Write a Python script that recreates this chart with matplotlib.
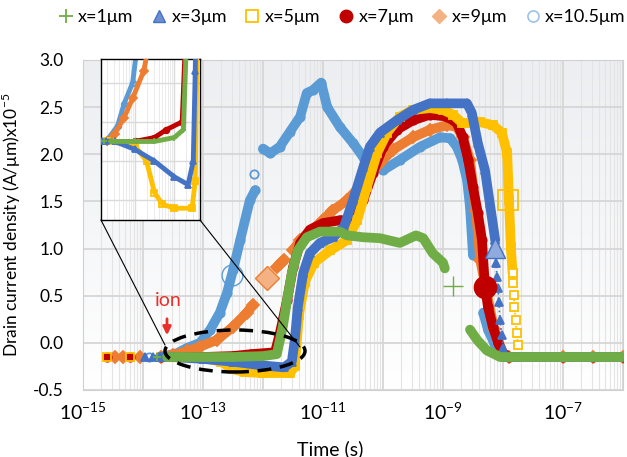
import numpy as np
import matplotlib
matplotlib.use('Agg')
import matplotlib.pyplot as plt
from matplotlib.lines import Line2D
from matplotlib.patches import Ellipse, ConnectionPatch
from matplotlib.colors import LinearSegmentedColormap
import matplotlib.ticker as mticker

plt.rcParams['font.family'] = ['Lato', 'DejaVu Sans']
plt.rcParams['mathtext.fontset'] = 'custom'
plt.rcParams['mathtext.rm'] = 'Lato'
plt.rcParams['axes.unicode_minus'] = False

nan = np.nan

labels = ['x=1μm', 'x=3μm', 'x=5μm', 'x=7μm', 'x=9μm', 'x=10.5μm']

# log10(time [s]) and drain current density [x1e-5 A/μm]
x1_logt = [-13.77, nan, -13.6, -13.0, -12.5, -12.0, -11.77, -11.67, -11.60, -11.52, -11.42, -11.27, -11.05,
           -10.72, -10.60, -10.33, -10.05, -9.72, -9.45, -9.33, -9.17, -9.00, -8.97, nan,
           -8.55, -8.43, -8.27, -8.05, -7.5, -7.0, -6.5, -6.0]
x1_i = [-0.15, nan, -0.15, -0.15, -0.15, -0.14, -0.12, 0.17, 0.45, 0.74, 0.98, 1.12, 1.18,
        1.18, 1.14, 1.12, 1.11, 1.06, 1.14, 1.11, 0.95, 0.85, 0.79, nan,
        0.14, 0.03, -0.08, -0.15, -0.15, -0.15, -0.15, -0.15]

x3_logt = [-13.97, nan, -13.83, nan, -13.72, -13.5, -13.0, -12.5, -12.0, -11.65, -11.52, -11.47, -11.42,
           -11.33, -11.22, -11.05, -10.83, -10.65, -10.50, -10.33, -10.22, -10.05, -9.77, -9.50, -9.22,
           -8.93, -8.60, -8.52, -8.42, -8.30, -8.22, -8.13, nan, -7.97, -7.5, -7.0, -6.5, -6.0]
x3_i = [-0.15, nan, -0.15, nan, -0.15, -0.15, -0.17, -0.20, -0.24, -0.26, -0.20, 0.03, 0.38,
        0.74, 0.95, 1.06, 1.12, 1.23, 1.51, 1.86, 2.08, 2.23, 2.36, 2.47, 2.54,
        2.54, 2.54, 2.44, 2.12, 1.83, 1.48, 1.09, nan, -0.15, -0.15, -0.15, -0.15, -0.15]
x3_tail_logt = [-8.13, -8.12, -8.10, -8.08, -8.07, -8.05, -8.02, -8.00, -7.97]
x3_tail_i = [1.09, 0.85, 0.70, 0.58, 0.43, 0.24, 0.08, -0.05, -0.15]

x5_logt = [-14.6, nan, -14.22, nan, -13.7, -13.0, -12.7, -12.5, -12.3, -12.0, -11.55, -11.47, -11.40,
           -11.30, -11.15, -10.88, -10.60, -10.43, -10.27, -10.10, -9.93, -9.72, -9.50, -9.22, -9.00,
           -8.83, -8.68, -8.60, -8.38, -8.17, -8.02, -7.93, -7.90, -7.87, -7.84, nan, -7.70, -7.0, -6.5, -6.0]
x5_i = [-0.15, nan, -0.15, nan, -0.15, -0.16, -0.20, -0.28, -0.31, -0.32, -0.32, -0.25, 0.30,
        0.65, 0.85, 0.98, 1.09, 1.30, 1.65, 2.01, 2.23, 2.40, 2.47, 2.49, 2.47,
        2.42, 2.33, 2.33, 2.34, 2.31, 2.23, 2.01, 1.51, 1.02, 0.74, nan, -0.15, -0.15, -0.15, -0.15]
x5_tail_logt = [-7.84, -7.83, -7.82, -7.81, -7.79, -7.77, -7.75, -7.70]
x5_tail_i = [0.74, 0.63, 0.51, 0.38, 0.24, 0.10, -0.02, -0.15]

x7_logt = [-14.6, nan, -14.22, nan, -13.7, -13.0, -12.5, -12.2, -11.8, -11.72, -11.60, -11.50, -11.38,
           -11.22, -11.00, -10.72, -10.60, -10.33, -10.17, -10.00, -9.77, -9.50, -9.22, -8.93, -8.77,
           -8.67, -8.58, -8.50, -8.42, -8.35, -8.30, -8.25, -8.17, -8.08, -8.00, -7.9, -7.0, -6.5, -6.0]
x7_i = [-0.15, nan, -0.15, nan, -0.15, -0.15, -0.14, -0.12, -0.10, 0.10, 0.45, 0.80, 1.06,
        1.20, 1.27, 1.30, 1.30, 1.51, 1.80, 2.08, 2.26, 2.36, 2.42, 2.40, 2.33,
        2.18, 1.94, 1.65, 1.38, 1.09, 0.59, 0.38, 0.17, 0.00, -0.11, -0.15, -0.15, -0.15, -0.15]

x9_logt = [-14.47, nan, -14.33, nan, -14.05, nan, -13.7, -13.5, -13.27, -13.05, -12.77, -12.50, -12.27,
           -12.17, nan, -11.77, -11.70, -11.65, nan, -11.50, -11.38, -11.22, -11.00, -10.85, -10.60,
           -10.33, -10.05, -9.83, -9.50, -9.22, -8.93, -8.77, -8.67, -8.55, -8.45, -8.38, -8.27, -8.15,
           -8.00, -7.9, -7.0, -6.5, -6.0]
x9_i = [-0.15, nan, -0.15, nan, -0.15, nan, -0.15, -0.13, -0.09, -0.04, 0.03, 0.17, 0.32,
        0.40, nan, 0.80, 0.85, 0.88, nan, 0.98, 1.09, 1.18, 1.30, 1.40, 1.51,
        1.70, 1.91, 2.05, 2.18, 2.26, 2.31, 2.29, 2.18, 1.94, 1.40, 0.88, 0.53, 0.15,
        -0.11, -0.15, -0.15, -0.15, -0.15]

x105_logt = [-13.9, nan, -13.72, -13.43, -13.27, -13.05, -12.88, -12.72, -12.60, -12.50, -12.38, -12.22,
             -12.13, nan, -12.15, nan, -12.00, -11.88, -11.72, -11.55, -11.38, -11.27, -11.17, -11.03,
             -10.93, -10.72, -10.50, -10.33, -10.00, -9.72, -9.38, -9.05, -8.88, -8.77, -8.68, -8.60,
             -8.55, -8.50, nan, -8.33, -8.25, -8.15, -8.05, -7.9, -7.0, -6.5, -6.0]
x105_i = [-0.15, nan, -0.15, -0.11, -0.055, 0.0, 0.14, 0.32, 0.53, 0.77, 1.09, 1.51,
          1.62, nan, 1.79, nan, 2.06, 2.01, 2.08, 2.24, 2.40, 2.65, 2.68, 2.76,
          2.50, 2.29, 2.12, 1.97, 1.83, 1.94, 2.08, 2.18, 2.17, 2.08, 1.94, 1.73,
          1.44, 0.93, nan, 0.32, 0.14, 0.00, -0.11, -0.15, -0.15, -0.15, -0.15]

# highlighted (large) markers, one per series
big_logt = [-8.83, -8.13, -7.92, -8.30, -11.93, -12.52]
big_i = [0.60, 1.01, 1.51, 0.59, 0.69, 0.72]

xtick_exp = [-15, -13, -11, -9, -7]
ytick_vals = [-0.5, 0.0, 0.5, 1.0, 1.5, 2.0, 2.5, 3.0]

colors = ['#70AD47', '#4472C4', '#FFC000', '#C00000', '#ED7D31', '#5B9BD5']
markers = ['+', '^', 's', 'o', 'D', 'o']
mfcs = ['#70AD47', '#4472C4', 'none', '#C00000', '#ED7D31', 'none']
zorders = [7, 6, 5, 4, 3, 2]

series = [(x1_logt, x1_i), (x3_logt, x3_i), (x5_logt, x5_i),
          (x7_logt, x7_i), (x9_logt, x9_i), (x105_logt, x105_i)]
tails = {1: (x3_tail_logt, x3_tail_i), 2: (x5_tail_logt, x5_tail_i)}


def T(a):
    return np.power(10.0, np.array(a, dtype=float))


def draw(ax, lw, ms, big=True):
    for k, (lt, iv) in enumerate(series):
        ax.plot(T(lt), iv, color=colors[k], lw=lw, marker=markers[k], ms=ms,
                mfc=mfcs[k], mec=colors[k], mew=1.3, zorder=zorders[k],
                solid_capstyle='round', solid_joinstyle='round')
        if k in tails:
            tl, ti = tails[k]
            ax.plot(T(tl), ti, color=colors[k], lw=1.2, ls=':', marker=markers[k], ms=ms,
                    mfc=mfcs[k] if mfcs[k] != 'none' else 'white', mec=colors[k], mew=1.3,
                    zorder=zorders[k])
    if big:
        bstyle = [dict(marker='+', ms=15, mew=1.0, color='#70AD47'),
                  dict(marker='^', ms=15, mfc='#8FAADC', mec='#4472C4', mew=1.0),
                  dict(marker='s', ms=15, mfc='none', mec='#FFC000', mew=1.3),
                  dict(marker='o', ms=16, mfc='#C00000', mec='#C00000'),
                  dict(marker='D', ms=12, mfc='#F4B183', mec='#ED7D31', mew=1.0),
                  dict(marker='o', ms=15, mfc='none', mec='#5B9BD5', mew=1.0)]
        for k in range(6):
            ax.plot(T([big_logt[k]]), [big_i[k]], ls='none', zorder=8, **bstyle[k])


W, H = 627, 457
fig = plt.figure(figsize=(W / 100, H / 100), dpi=100)
L, R, TOP, BOT = 83, 623, 60, 390
ax = fig.add_axes([L / W, 1 - BOT / H, (R - L) / W, (BOT - TOP) / H])

grad = np.linspace(0, 1, 256).reshape(-1, 1)
cmap = LinearSegmentedColormap.from_list('bg', ['#FFFFFF', '#ECEEF1'])
ax.imshow(grad, extent=[0, 1, 1, 0], transform=ax.transAxes, cmap=cmap, aspect='auto', zorder=0)

ax.set_xscale('log')
draw(ax, lw=7, ms=6)
ax.set_xlim(1e-15, 1e-6)
ax.set_ylim(-0.5, 3.0)

ax.xaxis.set_major_locator(mticker.FixedLocator(10.0 ** np.arange(-15, -5)))
ax.xaxis.set_minor_locator(mticker.LogLocator(base=10, subs=np.arange(2, 10), numticks=20))
ax.xaxis.set_major_formatter(mticker.FuncFormatter(
    lambda v, p: (r'$\mathregular{10^{%d}}$' % round(np.log10(v))) if round(np.log10(v)) in xtick_exp else ''))
ax.xaxis.set_minor_formatter(mticker.NullFormatter())
ax.set_yticks(ytick_vals)
ax.yaxis.set_major_formatter(mticker.FormatStrFormatter('%.1f'))
ax.tick_params(axis='both', which='both', length=0)
ax.tick_params(axis='x', labelsize=14, pad=8)
ax.tick_params(axis='y', labelsize=12.5, pad=14)
ax.set_axisbelow(True)
ax.grid(True, which='major', color='#D6D6D6', lw=1.3)
ax.grid(True, which='minor', axis='x', color='#E4E4E4', lw=0.8)
for s in ax.spines.values():
    s.set_color('#D0D0D0')

ax.set_xlabel('Time (s)', fontsize=14)
ax.xaxis.set_label_coords((330 - L) / (R - L), (BOT - 440) / (BOT - TOP))
ax.set_ylabel(r'Drain current density (A/μm)x10$^{\mathregular{-5}}$', fontsize=12.5)
ax.yaxis.set_label_coords((23 - L) / (R - L), 0.5)

# ellipse around the ion strike region
ax.add_patch(Ellipse(((235 - L) / (R - L), (BOT - 351) / (BOT - TOP)), 140 / (R - L), 42 / (BOT - TOP),
                     transform=ax.transAxes, fill=False, ls=(0, (4, 2.5)), lw=2.5, ec='black', zorder=10))
ax.text((168 - L) / (R - L), (BOT - 300) / (BOT - TOP), 'ion', color='#E8302A', fontsize=14,
        ha='center', va='center', transform=ax.transAxes, zorder=11)
ax.annotate('', xy=((167 - L) / (R - L), (BOT - 338) / (BOT - TOP)),
            xytext=((167 - L) / (R - L), (BOT - 316) / (BOT - TOP)),
            xycoords='axes fraction', textcoords='axes fraction',
            arrowprops=dict(arrowstyle='-|>', color='#E8302A', lw=2, mutation_scale=12), zorder=11)

# inset
IL, IR, IT, IB = 101, 200, 59, 220
axin = fig.add_axes([IL / W, 1 - IB / H, (IR - IL) / W, (IB - IT) / H])
axin.set_facecolor('white')
axin.set_xscale('log')
draw(axin, lw=3.5, ms=4, big=False)
axin.set_xlim(10 ** -13.85, 10 ** -11.35)
axin.set_ylim(-0.35, 0.06)
axin.xaxis.set_minor_locator(mticker.LogLocator(base=10, subs=np.arange(2, 10), numticks=20))
axin.set_yticks([-0.3, -0.2, -0.1, 0.0])
axin.tick_params(which='both', length=0, labelbottom=False, labelleft=False)
axin.grid(True, which='major', color='#DADADA', lw=1.0)
axin.grid(True, which='minor', axis='x', color='#E8E8E8', lw=0.6)
for s in axin.spines.values():
    s.set_color('black')
    s.set_linewidth(1.0)

for xa, xb in [((0, 0), ((165 - L) / (R - L), (BOT - 345) / (BOT - TOP))),
               ((1, 0), ((300 - L) / (R - L), (BOT - 347) / (BOT - TOP)))]:
    cp = ConnectionPatch(xyA=xa, coordsA=axin.transAxes, xyB=xb, coordsB=ax.transAxes,
                         color='black', lw=0.8, zorder=12)
    fig.add_artist(cp)

# legend
handles = [
    Line2D([], [], ls='none', marker='+', ms=10, mew=1.3, color='#70AD47'),
    Line2D([], [], ls='none', marker='^', ms=8, mfc='#6F8FD0', mec='#4472C4'),
    Line2D([], [], ls='none', marker='s', ms=8, mfc='none', mec='#FFC000', mew=1.3),
    Line2D([], [], ls='none', marker='o', ms=9, mfc='#C00000', mec='#C00000'),
    Line2D([], [], ls='none', marker='D', ms=7, mfc='#F4B183', mec='#F4B183'),
    Line2D([], [], ls='none', marker='o', ms=8, mfc='none', mec='#9DC3E6', mew=1.2),
]
fig.legend(handles, labels, loc='center', bbox_to_anchor=(342 / W, 1 - 17 / H), ncol=6,
           frameon=False, fontsize=13, handlelength=0.8, handletextpad=0.3, columnspacing=1.0,
           borderaxespad=0, borderpad=0)

fig.savefig('out.png', dpi=100)
